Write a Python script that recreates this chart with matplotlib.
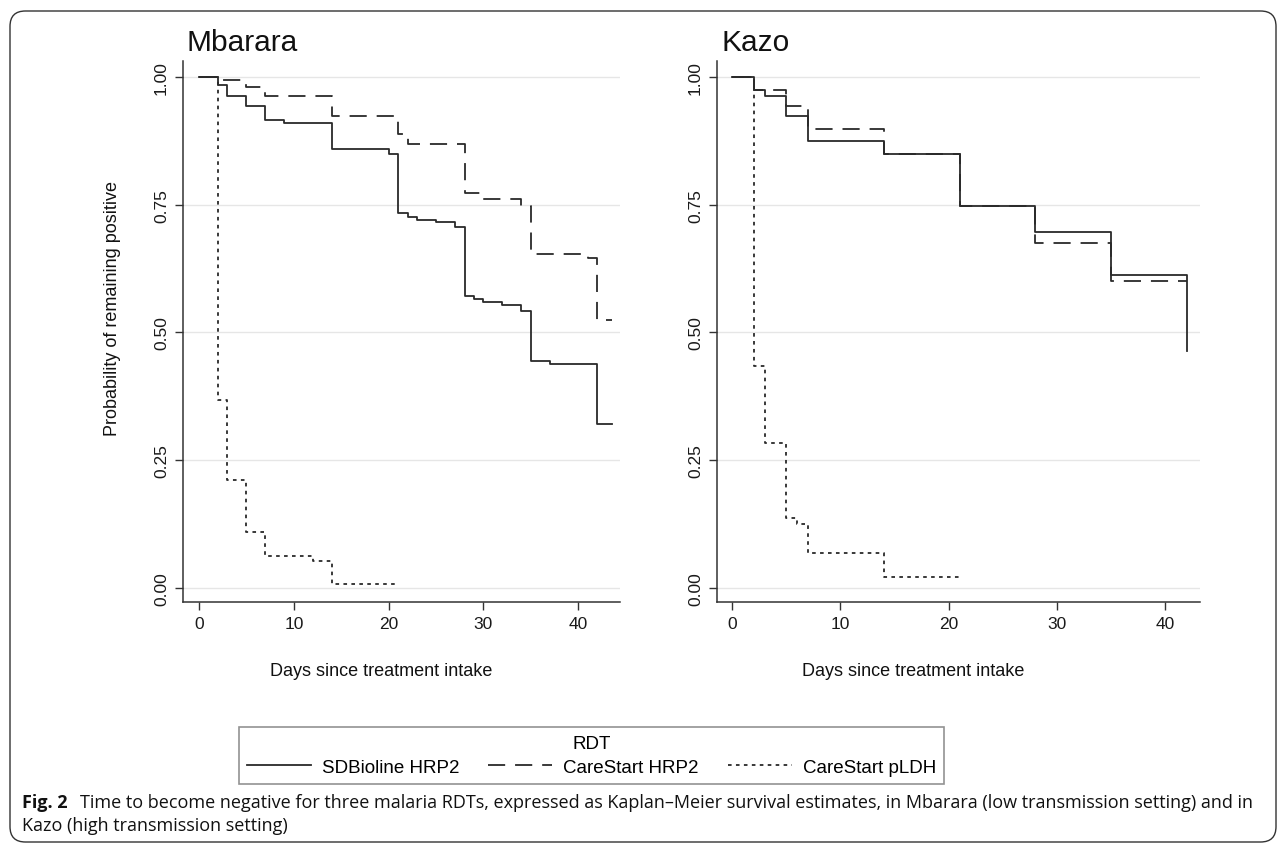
import matplotlib
matplotlib.use("Agg")
import matplotlib.pyplot as plt
from matplotlib.patches import FancyBboxPatch

# ---------------- data (Kaplan-Meier step curves) ----------------
panels = ["Mbarara", "Kazo"]
series_labels = ["SDBioline HRP2", "CareStart HRP2", "CareStart pLDH"]

# Mbarara
mb_sd_days = [0, 2, 3, 5, 7, 9, 14, 20, 21, 22, 23, 25, 27, 28, 29, 30, 32, 34, 35, 37, 42, 43.6]
mb_sd_prob = [1.0, 0.985, 0.963, 0.943, 0.915, 0.909, 0.858, 0.849, 0.734, 0.725, 0.720,
              0.716, 0.707, 0.572, 0.566, 0.559, 0.554, 0.541, 0.445, 0.438, 0.321, 0.321]
mb_cs_days = [0, 2, 5, 7, 14, 21, 22, 28, 30, 34, 35, 41, 42, 43.6]
mb_cs_prob = [1.0, 0.993, 0.981, 0.963, 0.924, 0.888, 0.869, 0.772, 0.761, 0.748, 0.654,
              0.645, 0.525, 0.525]
mb_pl_days = [0, 2, 3, 5, 7, 12, 14, 21]
mb_pl_prob = [1.0, 0.368, 0.211, 0.109, 0.062, 0.053, 0.008, 0.008]

# Kazo
kz_sd_days = [0, 2, 3, 5, 7, 14, 21, 28, 35, 42, 42]
kz_sd_prob = [1.0, 0.975, 0.963, 0.924, 0.875, 0.849, 0.748, 0.696, 0.613, 0.613, 0.464]
kz_cs_days = [0, 2, 5, 7, 14, 21, 28, 35, 42]
kz_cs_prob = [1.0, 0.975, 0.942, 0.897, 0.849, 0.747, 0.675, 0.600, 0.600]
kz_pl_days = [0, 2, 3, 5, 6, 7, 14, 21]
kz_pl_prob = [1.0, 0.435, 0.283, 0.137, 0.125, 0.068, 0.021, 0.021]

x_ticks = [0, 10, 20, 30, 40]
y_ticks = [0.0, 0.25, 0.5, 0.75, 1.0]
y_ticklabels = ["0.00", "0.25", "0.50", "0.75", "1.00"]

caption_bold = "Fig. 2"
caption_line1 = ("Time to become negative for three malaria RDTs, expressed as Kaplan\u2013Meier "
                 "survival estimates, in Mbarara (low transmission setting) and in")
caption_line2 = "Kazo (high transmission setting)"

# ---------------- figure ----------------
W, H = 1284, 845
fig = plt.figure(figsize=(W / 100, H / 100), dpi=100)
fig.patch.set_facecolor("white")

def fx(px):
    return px / W

def fy(py):
    return 1 - py / H

FONT = ["Liberation Sans", "DejaVu Sans"]
LC = "#2a2a2a"
LW = 1.3
styles = [
    dict(linestyle="-"),
    dict(linestyle=(0, (9.5, 5.5))),
    dict(linestyle=(0, (2.0, 2.4))),
]

# axes placement in pixels: left, right, top, bottom
ax_px = {
    "Mbarara": (183, 620, 62, 603),
    "Kazo": (717, 1200, 62, 603),
}
xlabel_center = {"Mbarara": 381, "Kazo": 913}
xlims = {"Mbarara": (-1.69, 44.4), "Kazo": (-1.39, 43.2)}
ylim = (-0.0274, 1.031)

data = {
    "Mbarara": [(mb_sd_days, mb_sd_prob), (mb_cs_days, mb_cs_prob), (mb_pl_days, mb_pl_prob)],
    "Kazo": [(kz_sd_days, kz_sd_prob), (kz_cs_days, kz_cs_prob), (kz_pl_days, kz_pl_prob)],
}

handles = []
for name in panels:
    l, r, t, b = ax_px[name]
    ax = fig.add_axes([fx(l), fy(b), fx(r - l), (b - t) / H])
    ax.set_xlim(*xlims[name])
    ax.set_ylim(*ylim)
    for y in y_ticks:
        ax.axhline(y, color="#e6e6e6", lw=1.0, zorder=0)
    hs = []
    for (d, p), st, lab in zip(data[name], styles, series_labels):
        h, = ax.step(d, p, where="post", color=LC, lw=LW, label=lab, **st)
        hs.append(h)
    if not handles:
        handles = hs
    for s in ["top", "right"]:
        ax.spines[s].set_visible(False)
    for s in ["left", "bottom"]:
        ax.spines[s].set_color("#333333")
        ax.spines[s].set_linewidth(1.1)
    ax.set_xticks(x_ticks)
    ax.set_yticks(y_ticks)
    ax.set_yticklabels(y_ticklabels, rotation=90, va="center", fontfamily=FONT)
    ax.tick_params(axis="both", direction="out", length=6, width=1.0, color="#333333",
                   labelsize=12.5, labelcolor="#1a1a1a", pad=4)
    for lbl in ax.get_xticklabels():
        lbl.set_fontfamily(FONT)
    ax.set_facecolor("white")
    # title
    fig.text(fx(l + 4), fy(43), name, fontsize=21.5, fontfamily=FONT, color="#111111",
             ha="left", va="center")
    # x label
    ax.set_xlabel("Days since treatment intake", fontsize=13, fontfamily=FONT, color="#111111")
    ax.xaxis.set_label_coords((xlabel_center[name] - l) / (r - l), -(672 - b - 9) / (b - t))
    if name == "Mbarara":
        ax.set_ylabel("Probability of remaining positive", fontsize=13, fontfamily=FONT,
                      color="#111111")
        ax.yaxis.set_label_coords((121 - l) / (r - l), 0.545)

# legend
leg = fig.legend(handles, series_labels, loc="center", bbox_to_anchor=(fx(591.5), fy(756.5)),
                 ncol=3, title="RDT", frameon=True, fancybox=False,
                 prop=dict(family=FONT, size=13.5), title_fontproperties=dict(family=FONT, size=13.5),
                 handlelength=3.4, handletextpad=0.6, columnspacing=1.55,
                 borderpad=0.4, labelspacing=0.2)
leg.get_frame().set_edgecolor("#777777")
leg.get_frame().set_linewidth(1.2)
leg._legend_box.sep = 5

# caption
CAPF = ["Open Sans", "DejaVu Sans"]
CAPS = 13.0
tb = fig.text(fx(22), fy(803), caption_bold, fontsize=CAPS, fontweight="bold", fontfamily=CAPF,
              color="#111111", ha="left", va="center")
fig.canvas.draw()
bb = tb.get_window_extent()
fig.text(fx(22) + (bb.width + 12) / W, fy(803), caption_line1, fontsize=CAPS, fontfamily=CAPF,
         color="#111111", ha="left", va="center")
fig.text(fx(22), fy(826), caption_line2, fontsize=CAPS, fontfamily=CAPF, color="#111111",
         ha="left", va="center")

# rounded border
border = FancyBboxPatch((fx(10), fy(843)), fx(1276 - 10), (843 - 12) / H,
                        boxstyle="round,pad=0,rounding_size=0.012", transform=fig.transFigure,
                        fill=False, edgecolor="#333333", lw=1.0, mutation_aspect=W / H)
fig.add_artist(border)

fig.savefig("out.png", dpi=100, facecolor="white")
